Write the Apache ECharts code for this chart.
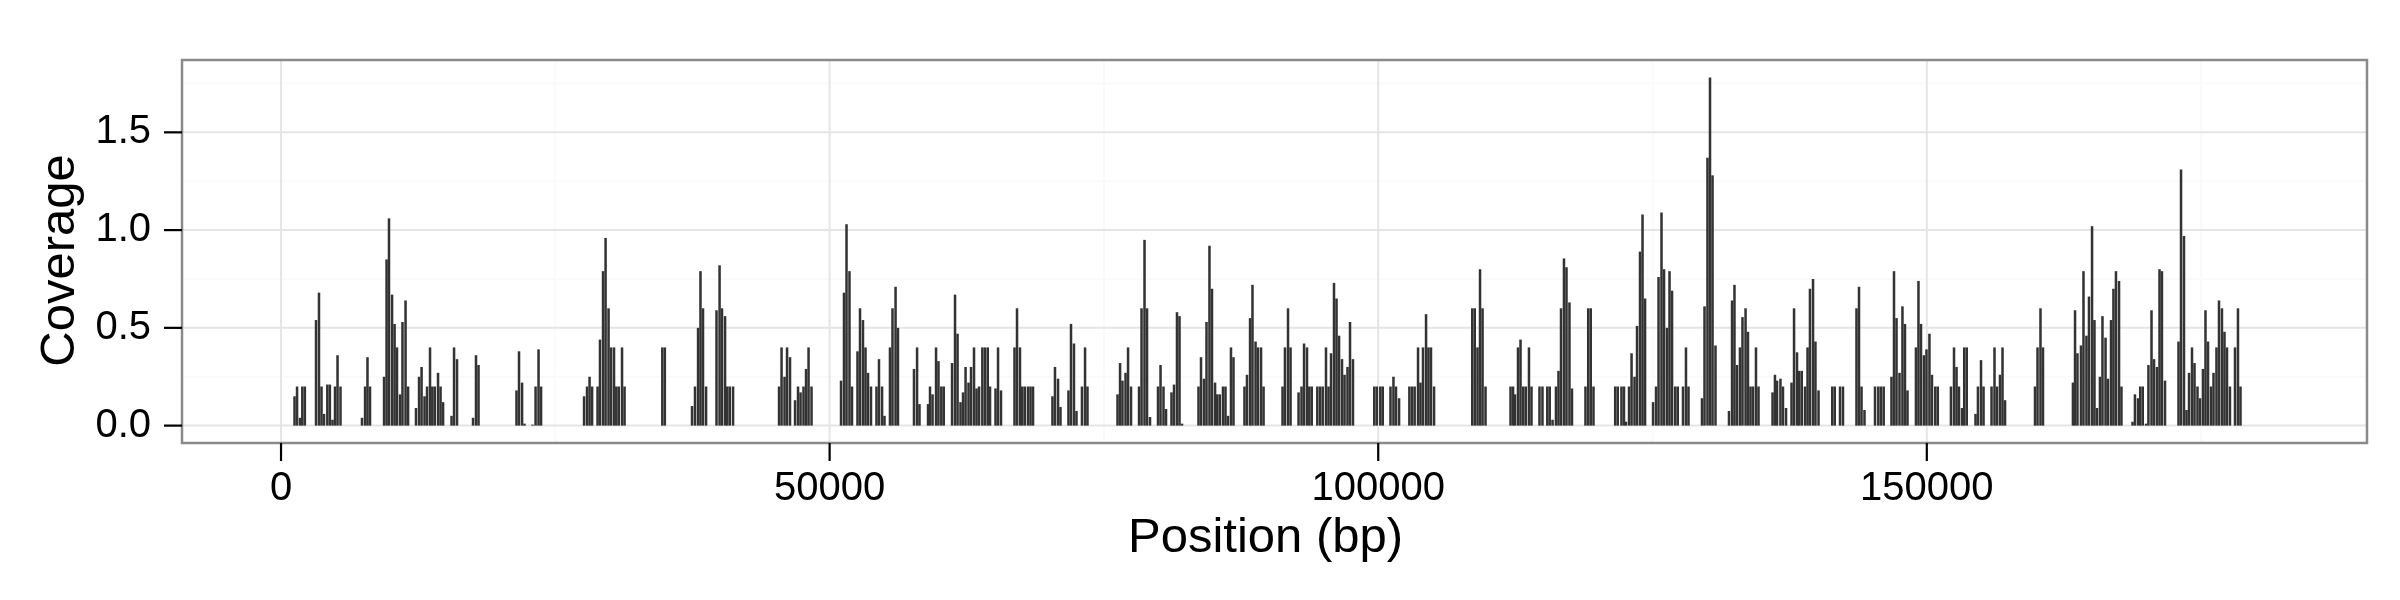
<!DOCTYPE html>
<html>
<head>
<meta charset="utf-8">
<title>Coverage</title>
<script src="https://cdn.jsdelivr.net/npm/echarts@6.0.0/dist/echarts.min.js"></script>
<style>
  html, body { margin: 0; padding: 0; background: #fff; }
  #chart { width: 2400px; height: 600px; }
</style>
</head>
<body>
<div id="chart"></div>
<script>
// bin centres (bp) and coverage
var positions = [
  1230, 1460, 1730, 1940, 2170, 3190, 3460, 3690, 3920, 4220, 4450, 4690, 4920, 5150, 5420,
  7380, 7660, 7880, 8110, 9390, 9620, 9840, 10120, 10350, 10570, 10850, 11070, 11350, 11580,
  12300, 12580, 12810, 13080, 13310, 13580, 13790, 14010, 14310, 14540, 14770, 15540, 15770, 16040,
  17500, 17770, 18000, 21460, 21690, 21970, 22190, 22920, 23200, 23470, 23700,
  27620, 27890, 28120, 28350, 28850, 29070, 29350, 29580, 29850, 30080, 30350, 30560, 30780, 31080, 31310,
  34750, 34980, 37460, 37730, 38010, 38230, 38460, 38740, 39690, 39970, 40190, 40470, 40670, 40900, 41200,
  45390, 45620, 45890, 46120, 46390, 46850, 47120, 47350, 47620, 47850, 48080, 48350,
  51040, 51310, 51540, 51810, 52040, 52540, 52770, 53040, 53270, 53500, 53770, 54270, 54500, 54780, 55000,
  55500, 55730, 56010, 56230, 57690, 57970, 58190, 58970, 59150, 59380, 59700, 59920, 60180, 60400,
  61160, 61430, 61660, 61930, 62160, 62390, 62660, 62890, 63160, 63390, 63620, 63920, 64160, 64410, 64620,
  65120, 65350, 65620, 66850, 67080, 67350, 67560, 67790, 68080, 68310, 68540,
  70310, 70540, 70820, 71040, 71770, 72000, 72270, 72500, 73000, 73280, 73500,
  76240, 76470, 76690, 76970, 77200, 77470, 78200, 78430, 78700, 78930, 79200, 79930, 80160, 80430, 80660,
  81160, 81390, 81660, 81890, 82120, 83620, 83850, 84120, 84350, 84620, 84850, 85130, 85330, 85560,
  85850, 86080, 86310, 86580, 86810, 87810, 88040, 88320, 88540, 88820, 89040, 89320, 89550,
  91280, 91500, 91780, 92010, 92740, 93010, 93240, 93510, 93720, 93940, 94450, 94700, 94940, 95240, 95470,
  95700, 95970, 96200, 96430, 96700, 96930, 97200, 97430, 97700, 99640, 99870, 100190, 100410,
  101120, 101390, 101620, 101900, 102840, 103080, 103320, 103630, 103850, 104080, 104360, 104580, 104810, 105090,
  108570, 108800, 109050, 109280, 109510, 109780, 112060, 112290, 112470, 112740, 112970, 113220, 113450, 113740,
  113970, 114700, 114970, 115410, 115630, 115890, 116200, 116430, 116660, 116930, 117160, 117430, 117660,
  118890, 119140, 119370, 119620, 121600, 121830, 122170, 122400, 122580, 122860, 123090, 123360, 123590,
  123860, 124090, 124320, 125050, 125320, 125550, 125820, 126050, 126320, 126550, 126780, 127070, 127300,
  127780, 128050, 128280, 129510, 129740, 130010, 130240, 130470, 130740, 131970, 132250, 132470, 132700,
  132970, 133200, 133480, 133700, 133930, 134160, 134430, 134660, 135940, 136160, 136350,
  136660, 136890, 137170, 137670, 137900, 138170, 138370, 138600, 138900, 139130, 139350, 139630, 139850, 140130,
  141380, 141610, 142090, 142360, 143590, 143820, 144050, 144320, 145280, 145580, 145820, 146070,
  146780, 147010, 147240, 147510, 147780, 148010, 148240, 149010, 149240, 149470, 149740, 149970, 150240, 150470,
  150770, 151000, 152200, 152480, 152710, 152930, 153210, 153410, 153640, 154440, 154660, 154940, 155170,
  155900, 156170, 156400, 156670, 156900, 157130,
  159860, 160090, 160360, 160590, 163320, 163510, 163730, 164050, 164280, 164550, 164780, 165060, 165280,
  165510, 165780, 166010, 166290, 166510, 166790, 167010, 167240, 167520, 167740, 168750, 168970, 169250,
  169450, 169680, 169980, 170200, 170480, 170710, 170980, 171210, 171430, 171710, 172940, 173170, 173440,
  173670, 173900, 174170, 174400, 174670, 174900, 175170, 175400, 175630, 175900, 176130, 176400, 176630,
  176900, 177130, 177360, 177630, 178090, 178360, 178590
];
var coverage = [
  0.15, 0.20, 0.04, 0.20, 0.20, 0.54, 0.68, 0.20, 0.06, 0.21, 0.21, 0.03, 0.20, 0.36, 0.20,
  0.04, 0.20, 0.35, 0.20, 0.25, 0.85, 1.06, 0.67, 0.52, 0.40, 0.16, 0.53, 0.64, 0.20,
  0.09, 0.25, 0.30, 0.15, 0.20, 0.40, 0.20, 0.20, 0.27, 0.20, 0.12, 0.05, 0.40, 0.34,
  0.04, 0.36, 0.31, 0.18, 0.38, 0.22, 0.01, 0.005, 0.20, 0.39, 0.20,
  0.15, 0.20, 0.25, 0.20, 0.20, 0.44, 0.79, 0.96, 0.60, 0.40, 0.40, 0.20, 0.20, 0.40, 0.20,
  0.40, 0.40, 0.10, 0.20, 0.50, 0.79, 0.60, 0.20, 0.59, 0.82, 0.60, 0.56, 0.20, 0.20, 0.20,
  0.20, 0.40, 0.25, 0.40, 0.35, 0.13, 0.20, 0.17, 0.20, 0.29, 0.40, 0.20,
  0.23, 0.68, 1.03, 0.79, 0.20, 0.38, 0.60, 0.54, 0.40, 0.27, 0.20, 0.20, 0.34, 0.20, 0.05,
  0.40, 0.60, 0.71, 0.50, 0.29, 0.40, 0.11, 0.11, 0.20, 0.16, 0.40, 0.33, 0.20, 0.20,
  0.32, 0.67, 0.47, 0.12, 0.17, 0.30, 0.22, 0.30, 0.40, 0.19, 0.20, 0.40, 0.40, 0.40, 0.20,
  0.19, 0.40, 0.18, 0.40, 0.60, 0.40, 0.20, 0.20, 0.20, 0.20, 0.20,
  0.15, 0.30, 0.24, 0.095, 0.18, 0.52, 0.42, 0.075, 0.20, 0.40, 0.20,
  0.16, 0.32, 0.23, 0.27, 0.40, 0.20, 0.20, 0.60, 0.95, 0.60, 0.044, 0.20, 0.31, 0.20, 0.085,
  0.17, 0.21, 0.58, 0.56, 0.01, 0.20, 0.35, 0.24, 0.53, 0.92, 0.70, 0.22, 0.16, 0.16,
  0.20, 0.20, 0.05, 0.40, 0.35, 0.20, 0.26, 0.55, 0.72, 0.43, 0.40, 0.40, 0.20,
  0.20, 0.40, 0.60, 0.40, 0.17, 0.20, 0.42, 0.40, 0.20, 0.20, 0.20, 0.20, 0.20, 0.40, 0.20,
  0.37, 0.73, 0.65, 0.46, 0.34, 0.26, 0.30, 0.53, 0.34, 0.20, 0.20, 0.20, 0.20,
  0.20, 0.25, 0.20, 0.14, 0.20, 0.20, 0.20, 0.40, 0.22, 0.40, 0.57, 0.40, 0.40, 0.20,
  0.60, 0.60, 0.40, 0.80, 0.60, 0.20, 0.20, 0.20, 0.16, 0.40, 0.44, 0.20, 0.20, 0.40,
  0.20, 0.20, 0.20, 0.20, 0.20, 0.03, 0.20, 0.28, 0.60, 0.855, 0.81, 0.63, 0.19,
  0.20, 0.60, 0.60, 0.20, 0.20, 0.20, 0.20, 0.20, 0.02, 0.20, 0.37, 0.25, 0.51,
  0.89, 1.08, 0.65, 0.12, 0.20, 0.76, 1.09, 0.80, 0.50, 0.79, 0.69, 0.20, 0.20,
  0.20, 0.40, 0.20, 0.14, 0.61, 1.37, 1.78, 1.28, 0.41, 0.075, 0.64, 0.72, 0.31,
  0.40, 0.555, 0.60, 0.48, 0.20, 0.20, 0.40, 0.20, 0.17, 0.26, 0.23,
  0.24, 0.20, 0.09, 0.22, 0.60, 0.375, 0.28, 0.28, 0.20, 0.40, 0.70, 0.75, 0.43, 0.18,
  0.20, 0.20, 0.20, 0.20, 0.60, 0.71, 0.20, 0.08, 0.20, 0.20, 0.20, 0.20,
  0.25, 0.79, 0.55, 0.27, 0.61, 0.52, 0.18, 0.40, 0.74, 0.52, 0.36, 0.39, 0.47, 0.26,
  0.20, 0.20, 0.20, 0.40, 0.30, 0.20, 0.09, 0.40, 0.40, 0.06, 0.20, 0.335, 0.20,
  0.20, 0.40, 0.20, 0.26, 0.40, 0.13,
  0.20, 0.40, 0.60, 0.40, 0.22, 0.59, 0.37, 0.41, 0.79, 0.46, 0.66, 1.02, 0.54,
  0.09, 0.25, 0.56, 0.45, 0.24, 0.54, 0.70, 0.79, 0.74, 0.20, 0.02, 0.16, 0.14,
  0.20, 0.20, 0.01, 0.31, 0.59, 0.34, 0.30, 0.80, 0.79, 0.23, 0.43, 1.31, 0.97,
  0.08, 0.27, 0.40, 0.32, 0.20, 0.14, 0.29, 0.59, 0.43, 0.20, 0.27, 0.40, 0.64,
  0.60, 0.48, 0.40, 0.20, 0.40, 0.60, 0.20
];
var xTicks = [0, 50000, 100000, 150000];
var xMinor = [25000, 75000, 125000, 175000];
var yTicks = [0, 0.5, 1.0, 1.5];
var yMinor = [0.25, 0.75, 1.25, 1.75];

var binWidth = 230;           // drawn bar width in bp
// panel extent (data units) and the outer extent that leaves room for ticks
var xMin = -9025, xMax = 190120;
var yMin = -0.089, yMax = 1.870;
var xOuter = -10666, yOuter = -0.181;   // 18 px past the panel edge
var font = '"Liberation Sans", Arial, Helvetica, sans-serif';

var barData = positions.map(function(p, i) { return [p, coverage[i]]; });

function vLine(color) {
    return function(params, api) {
        var v = api.value(0);
        var a = api.coord([v, yMin]), b = api.coord([v, yMax]);
        return { type: 'line', shape: { x1: a[0], y1: a[1], x2: b[0], y2: b[1] },
                 style: { stroke: color, lineWidth: 2 } };
    };
}
function hLine(color) {
    return function(params, api) {
        var v = api.value(1);
        var a = api.coord([xMin, v]), b = api.coord([xMax, v]);
        return { type: 'line', shape: { x1: a[0], y1: a[1], x2: b[0], y2: b[1] },
                 style: { stroke: color, lineWidth: 2 } };
    };
}
function xTickMark(params, api) {
    var v = api.value(0);
    var a = api.coord([v, yMin]), b = api.coord([v, yOuter]);
    return { type: 'line', shape: { x1: a[0], y1: a[1], x2: b[0], y2: b[1] },
             style: { stroke: '#000', lineWidth: 2.2 } };
}
function yTickMark(params, api) {
    var v = api.value(1);
    var a = api.coord([xMin, v]), b = api.coord([xOuter, v]);
    return { type: 'line', shape: { x1: a[0], y1: a[1], x2: b[0], y2: b[1] },
             style: { stroke: '#000', lineWidth: 2.2 } };
}
function panelBorder(params, api) {
    var a = api.coord([xMin, yMax]), b = api.coord([xMax, yMin]);
    return { type: 'rect', shape: { x: a[0], y: a[1], width: b[0] - a[0], height: b[1] - a[1] },
             style: { fill: 'none', stroke: '#8a8a8a', lineWidth: 2.5 } };
}

var myChart = echarts.init(document.getElementById('chart'));
var option = {
    animation: false,
    textStyle: { fontFamily: font },
    grid: { left: 164, right: 33, top: 60, bottom: 139, show: false },
    xAxis: {
        type: 'value', min: xOuter, max: xMax,
        name: 'Position (bp)', nameLocation: 'middle', nameGap: 48,
        nameTextStyle: { fontSize: 49, color: '#000', fontFamily: font },
        axisLine: { show: false, onZero: false },
        splitLine: { show: false },
        axisTick: { show: false },
        axisLabel: { customValues: xTicks, fontSize: 40, color: '#000', margin: 8,
                     fontFamily: font, formatter: function(v) { return String(v); } }
    },
    yAxis: {
        type: 'value', min: yOuter, max: yMax,
        name: 'Coverage', nameLocation: 'middle', nameGap: 72,
        nameTextStyle: { fontSize: 49, color: '#000', fontFamily: font },
        axisLine: { show: false, onZero: false },
        splitLine: { show: false },
        axisTick: { show: false },
        axisLabel: { customValues: yTicks, fontSize: 40, color: '#000', margin: 13,
                     fontFamily: font, formatter: function(v) { return v.toFixed(1); } }
    },
    series: [
        { type: 'custom', z: 1, silent: true, renderItem: vLine('#fafafa'),
          data: xMinor.map(function(v) { return [v, 0]; }) },
        { type: 'custom', z: 1, silent: true, renderItem: hLine('#fafafa'),
          data: yMinor.map(function(v) { return [0, v]; }) },
        { type: 'custom', z: 2, silent: true, renderItem: vLine('#e5e5e5'),
          data: xTicks.map(function(v) { return [v, 0]; }) },
        { type: 'custom', z: 2, silent: true, renderItem: hLine('#e5e5e5'),
          data: yTicks.map(function(v) { return [0, v]; }) },
        {
            type: 'custom', z: 3, silent: true,
            renderItem: function(params, api) {
                var x = api.value(0), y = api.value(1);
                var a = api.coord([x - binWidth / 2, y]);
                var b = api.coord([x + binWidth / 2, 0]);
                return { type: 'rect',
                         shape: { x: a[0], y: a[1], width: b[0] - a[0], height: b[1] - a[1] },
                         style: { fill: '#333333' } };
            },
            data: barData
        },
        { type: 'custom', z: 4, silent: true, renderItem: panelBorder, data: [[0, 0]] },
        { type: 'custom', z: 4, silent: true, renderItem: xTickMark,
          data: xTicks.map(function(v) { return [v, 0]; }) },
        { type: 'custom', z: 4, silent: true, renderItem: yTickMark,
          data: yTicks.map(function(v) { return [0, v]; }) }
    ]
};
myChart.setOption(option);
</script>
</body>
</html>
